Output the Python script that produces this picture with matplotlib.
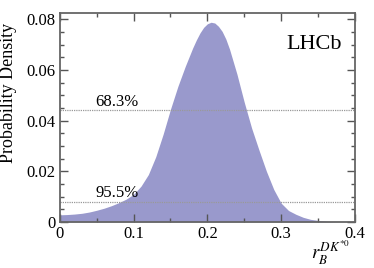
import matplotlib.pyplot as plt
import numpy as np
from matplotlib.ticker import MultipleLocator

plt.rcParams['font.family'] = ['Liberation Serif', 'DejaVu Serif']
plt.rcParams['mathtext.fontset'] = 'stix'

# r_B values and probability density
rb = np.array([0.00, 0.01, 0.02, 0.03, 0.04, 0.05, 0.06, 0.07, 0.08, 0.09,
               0.10, 0.11, 0.12, 0.13, 0.14, 0.15, 0.16, 0.17, 0.18, 0.185,
               0.19, 0.195, 0.20, 0.205, 0.21, 0.215, 0.22, 0.225, 0.23, 0.24,
               0.25, 0.26, 0.27, 0.28, 0.29, 0.30, 0.31, 0.32, 0.33, 0.34,
               0.35, 0.36, 0.37, 0.38, 0.39, 0.40])
density = np.array([0.0028, 0.0029, 0.0031, 0.0034, 0.0039, 0.0046, 0.0054, 0.0064, 0.0076, 0.0090,
                    0.0109, 0.0141, 0.0187, 0.0257, 0.0346, 0.0445, 0.0535, 0.0614, 0.0686, 0.0718,
                    0.0746, 0.0768, 0.0782, 0.0788, 0.0785, 0.0772, 0.0752, 0.0722, 0.0682, 0.0584,
                    0.0472, 0.0370, 0.0283, 0.0200, 0.0128, 0.0074, 0.0045, 0.0030, 0.0018, 0.0010,
                    0.0006, 0.0003, 0.0001, 0.0, 0.0, 0.0])

cl_levels = [0.044, 0.008]
cl_labels = ["68.3%", "95.5%"]

fig = plt.figure(figsize=(3.74, 2.68), dpi=100)
ax = fig.add_axes([0.160, 0.172, 0.789, 0.779])

ax.fill_between(rb, density, 0, color='#9999cc', linewidth=0)

for lvl, lab in zip(cl_levels, cl_labels):
    ax.axhline(lvl, color='#999999', linestyle=(0, (1, 0.8)), linewidth=0.9)
    ax.text(0.048, lvl + 0.0003, lab, fontsize=12, ha='left', va='bottom')

ax.text(0.382, 0.0699, "LHCb", fontsize=16, ha='right', va='center')

ax.set_xlim(0, 0.4)
ax.set_ylim(0, 0.0824)
ax.set_xticks([0, 0.1, 0.2, 0.3, 0.4])
ax.set_xticklabels(['0', '0.1', '0.2', '0.3', '0.4'])
ax.xaxis.set_minor_locator(MultipleLocator(0.05))
ax.set_yticks([0, 0.02, 0.04, 0.06, 0.08])
ax.set_yticklabels(['0', '0.02', '0.04', '0.06', '0.08'])
ax.yaxis.set_minor_locator(MultipleLocator(0.005))
ax.tick_params(which='both', direction='in', top=True, right=True,
               labelsize=12, color='#555555', pad=3)
ax.tick_params(which='major', length=6, width=1)
ax.tick_params(which='minor', length=3, width=1)
for s in ax.spines.values():
    s.set_color('#666666')
    s.set_linewidth(1.3)

ax.set_ylabel("Probability Density", fontsize=13)
ax.yaxis.set_label_coords(-0.145, 0.617)
fig.text(0.935, 0.004, r"$r_B^{DK^{*0}}$", fontsize=13.5, ha='right', va='bottom')

fig.savefig("out.png", dpi=100)
